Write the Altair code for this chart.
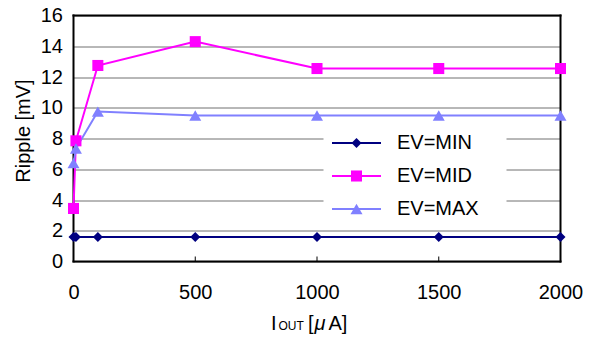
import altair as alt
import pandas as pd

# ---- data ----
iout = [0, 10, 100, 500, 1000, 1500, 2000]
ev_min = [1.6, 1.6, 1.6, 1.6, 1.6, 1.6, 1.6]
ev_mid = [3.45, 7.85, 12.75, 14.3, 12.55, 12.55, 12.55]
ev_max = [6.4, 7.35, 9.75, 9.5, 9.5, 9.5, 9.5]

series_names = ["EV=MIN", "EV=MID", "EV=MAX"]
series_colors = ["#000080", "#FF00FF", "#8080FF"]
series_shapes = ["diamond", "square", "triangle-up"]
series_sizes = [100, 144, 130]

x_ticks = [0, 500, 1000, 1500, 2000]
inner_ticks = [500, 1000, 1500]
y_ticks = [0, 2, 4, 6, 8, 10, 12, 14, 16]

FONT = "Liberation Sans"
W, H = 487, 246

rows = []
for name, vals in zip(series_names, [ev_min, ev_mid, ev_max]):
    for x, v in zip(iout, vals):
        rows.append({"series": name, "x": x, "y": v})
df = pd.DataFrame(rows)

color = alt.Color("series:N", scale=alt.Scale(domain=series_names, range=series_colors), legend=None)
shape = alt.Shape("series:N", scale=alt.Scale(domain=series_names, range=series_shapes), legend=None)
size = alt.Size("series:N", scale=alt.Scale(domain=series_names, range=series_sizes), legend=None)

xaxis = alt.Axis(values=x_ticks, format="d", title=None, grid=False, domain=False, ticks=False,
                 tickSize=0, labelPadding=21, labelFontSize=20, labelFont=FONT, labelColor="black",
                 labelFlush=False, labelOverlap=False)
yaxis = alt.Axis(values=y_ticks, format="d", title=None, grid=True, gridColor="#707070", gridWidth=1,
                 gridOpacity=1, domain=False, ticks=False, tickSize=0, labelPadding=11,
                 labelFontSize=20, labelFont=FONT, labelColor="black", labelOverlap=False)
xenc = alt.X("x:Q", scale=alt.Scale(domain=[0, 2000], nice=False, zero=False), axis=xaxis)
yenc = alt.Y("y:Q", scale=alt.Scale(domain=[0, 16], nice=False, zero=False), axis=yaxis)

one = pd.DataFrame({"a": [0]})


def edge(x1, x2, y1, y2):
    return alt.Chart(one).mark_rule(stroke="#000000", strokeWidth=2, opacity=1).encode(
        x=alt.value(x1), x2=alt.value(x2), y=alt.value(y1), y2=alt.value(y2))


frame = alt.layer(edge(0, 0, -1, H + 1), edge(W, W, -1, H + 1),
                  edge(-1, W + 1, 0, 0), edge(-1, W + 1, H, H))

lines = alt.Chart(df).mark_line(strokeWidth=2).encode(x=xenc, y=yenc, color=color, detail="series:N",
                                                        order=alt.Order("x:Q"))
points = alt.Chart(df).mark_point(filled=True, opacity=1).encode(
    x=xenc, y=yenc, color=color, shape=shape, size=size)

ticks = alt.Chart(pd.DataFrame({"x": inner_ticks})).mark_rule(color="black", strokeWidth=1).encode(
    x=xenc, y=alt.value(H), y2=alt.value(H - 5))

data_layer = alt.layer(ticks, lines, points)

# ---- legend ----
leg_df = pd.DataFrame({"series": series_names, "row": [0, 1, 2]})
ly = alt.Y("row:Q", scale=alt.Scale(domain=[0, 2], range=[127.5, 193.5]), axis=None)
leg_box = alt.Chart(one).mark_rect(color="white").encode(
    x=alt.value(250), x2=alt.value(433), y=alt.value(106), y2=alt.value(210))
leg_rule = alt.Chart(leg_df).mark_rule(strokeWidth=2).encode(
    x=alt.value(258.5), x2=alt.value(307.5), y=ly, color=color)
leg_pt = alt.Chart(leg_df).mark_point(filled=True, opacity=1).encode(
    x=alt.value(283), y=ly, color=color, shape=shape, size=size)
leg_txt = alt.Chart(leg_df).mark_text(align="left", baseline="middle", fontSize=20, font=FONT,
                                      color="black").encode(
    x=alt.value(323.5), y=ly, text="series:N")
legend_layer = alt.layer(leg_box, leg_rule, leg_pt, leg_txt)

# ---- titles ----
ytitle = alt.Chart(one).mark_text(text="Ripple [mV]", angle=270, fontSize=20, font=FONT,
                                  color="black", align="center", baseline="middle").encode(
    x=alt.value(-49.5), y=alt.value(115.5))
xt_I = alt.Chart(one).mark_text(text="I", fontSize=20, font=FONT, color="black",
                                align="left", baseline="alphabetic").encode(
    x=alt.value(197.5), y=alt.value(314.5))
xt_out = alt.Chart(one).mark_text(text="OUT", fontSize=12, font=FONT, color="black",
                                  align="left", baseline="alphabetic").encode(
    x=alt.value(205), y=alt.value(314.5))
xt_br = alt.Chart(one).mark_text(text="[", fontSize=20, font=FONT, color="black",
                                 align="left", baseline="alphabetic").encode(
    x=alt.value(234.5), y=alt.value(314.5))
xt_mu = alt.Chart(one).mark_text(text="μ", fontSize=20, font=FONT, fontStyle="italic",
                                 color="black", align="left", baseline="alphabetic").encode(
    x=alt.value(241), y=alt.value(314.5))
xt_a = alt.Chart(one).mark_text(text="A]", fontSize=20, font=FONT, color="black",
                                align="left", baseline="alphabetic").encode(
    x=alt.value(255), y=alt.value(314.5))
title_layer = alt.layer(ytitle, xt_I, xt_out, xt_br, xt_mu, xt_a)

chart = alt.layer(frame, data_layer, legend_layer, title_layer).resolve_scale(
    y="independent"
).properties(
    width=W, height=H,
    background="white",
    autosize=alt.AutoSizeParams(type="none"),
    padding={"left": 65.5, "top": 7.5, "right": 26.5, "bottom": 76},
).configure_view(stroke=None)

chart.save("out.html", embed_options={"renderer": "svg", "actions": False})
